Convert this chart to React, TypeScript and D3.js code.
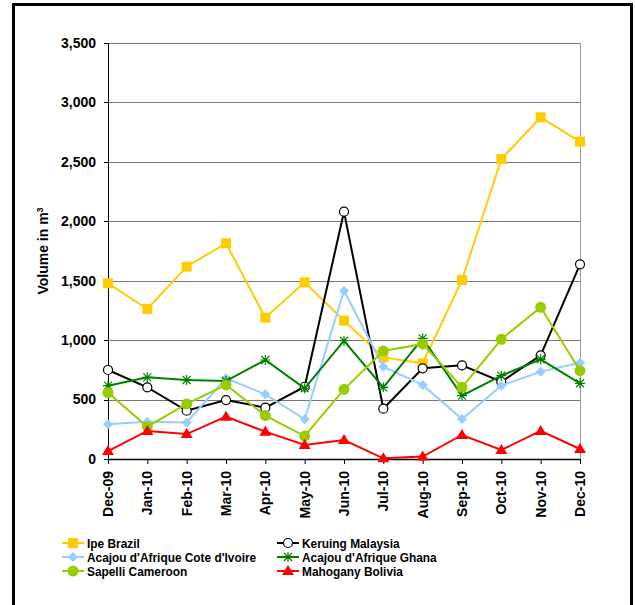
import React from "react";
import * as d3 from "d3";

const months = ["Dec-09", "Jan-10", "Feb-10", "Mar-10", "Apr-10", "May-10", "Jun-10", "Jul-10", "Aug-10", "Sep-10", "Oct-10", "Nov-10", "Dec-10"];

const ipeBrazil = [1478, 1262, 1618, 1815, 1189, 1486, 1164, 855, 805, 1506, 2524, 2875, 2670];
const keruingMalaysia = [749, 603, 406, 496, 432, 608, 2081, 423, 763, 788, 650, 872, 1638];
const acajouCoteIvoire = [292, 314, 308, 679, 544, 334, 1416, 777, 623, 337, 617, 735, 810];
const acajouGhana = [617, 687, 665, 656, 833, 595, 995, 603, 1015, 533, 701, 839, 637];
const sapelliCameroon = [558, 272, 463, 623, 365, 193, 586, 909, 968, 603, 1007, 1276, 743];
const mahoganyBolivia = [67, 236, 210, 356, 230, 118, 160, 6, 20, 202, 76, 236, 84];

const yTicks = [0, 500, 1000, 1500, 2000, 2500, 3000, 3500];

type Marker = "square" | "circle" | "diamond" | "star" | "dot" | "triangle";
const series: { name: string; values: number[]; color: string; marker: Marker }[] = [
  { name: "Ipe Brazil", values: ipeBrazil, color: "#FFCC00", marker: "square" },
  { name: "Keruing Malaysia", values: keruingMalaysia, color: "#000000", marker: "circle" },
  { name: "Acajou d'Afrique Cote d'Ivoire", values: acajouCoteIvoire, color: "#99CCFF", marker: "diamond" },
  { name: "Acajou d'Afrique Ghana", values: acajouGhana, color: "#008000", marker: "star" },
  { name: "Sapelli Cameroon", values: sapelliCameroon, color: "#99CC00", marker: "dot" },
  { name: "Mahogany Bolivia", values: mahoganyBolivia, color: "#FF0000", marker: "triangle" },
];

const FONT = "'Liberation Sans', Arial, sans-serif";

function MarkerShape({ type, color, x, y }: { type: Marker; color: string; x: number; y: number }) {
  switch (type) {
    case "square":
      return <rect x={x - 5} y={y - 5} width={10} height={10} fill={color} />;
    case "circle":
      return <circle cx={x} cy={y} r={4.5} fill="#fff" stroke={color} strokeWidth={1.2} />;
    case "diamond":
      return <path d={`M${x},${y - 5}L${x + 5},${y}L${x},${y + 5}L${x - 5},${y}Z`} fill={color} />;
    case "star":
      return (
        <path
          d={`M${x - 5},${y}H${x + 5}M${x},${y - 5}V${y + 5}M${x - 4},${y - 4}L${x + 4},${y + 4}M${x - 4},${y + 4}L${x + 4},${y - 4}`}
          stroke={color}
          strokeWidth={1.2}
          fill="none"
        />
      );
    case "dot":
      return <circle cx={x} cy={y} r={5.5} fill={color} />;
    case "triangle":
      return <path d={`M${x},${y - 6}L${x + 6},${y + 4}L${x - 6},${y + 4}Z`} fill={color} />;
  }
}

export default function App() {
  const width = 635;
  const height = 605;
  const plot = { left: 108, top: 43, right: 580, bottom: 459 };

  const x = d3.scalePoint<string>().domain(months).range([plot.left, plot.right]);
  const y = d3.scaleLinear().domain([0, 3500]).range([plot.bottom, plot.top]);
  const line = d3
    .line<number>()
    .x((_, i) => x(months[i]) as number)
    .y((d) => y(d));

  const legendRows = [
    [series[0], series[1]],
    [series[2], series[3]],
    [series[4], series[5]],
  ];

  return (
    <svg
      width={width}
      height={height}
      style={{ position: "absolute", left: 0, top: 0, background: "#fff" }}
      fontFamily={FONT}
    >
      <rect x={13.5} y={4.5} width={618} height={620} fill="#fff" stroke="#000" strokeWidth={3} />

      {/* gridlines */}
      {yTicks.map((t) => (
        <line key={t} x1={plot.left} x2={plot.right} y1={Math.round(y(t)) + 0.5} y2={Math.round(y(t)) + 0.5} stroke="#777" strokeWidth={1.2} />
      ))}
      <line x1={plot.right + 0.5} x2={plot.right + 0.5} y1={plot.top} y2={plot.bottom} stroke="#999" strokeWidth={1} />

      {/* axes */}
      <line x1={plot.left + 0.5} x2={plot.left + 0.5} y1={plot.top} y2={plot.bottom} stroke="#000" strokeWidth={1} />
      <line x1={plot.left} x2={plot.right} y1={plot.bottom + 0.5} y2={plot.bottom + 0.5} stroke="#000" strokeWidth={1.5} />
      {yTicks.map((t) => (
        <g key={t}>
          <line x1={plot.left - 4} x2={plot.left} y1={Math.round(y(t)) + 0.5} y2={Math.round(y(t)) + 0.5} stroke="#000" />
          <text x={96} y={y(t)} dy="0.35em" textAnchor="end" fontSize={14} fontWeight="bold">
            {d3.format(",")(t)}
          </text>
        </g>
      ))}
      {months.map((m) => {
        const px = x(m) as number;
        return (
          <g key={m}>
            <line x1={px + 0.5} x2={px + 0.5} y1={plot.bottom} y2={plot.bottom + 5} stroke="#000" />
            <text
              transform={`translate(${px + 5},${471}) rotate(-90)`}
              textAnchor="end"
              fontSize={14}
              fontWeight="bold"
            >
              {m}
            </text>
          </g>
        );
      })}

      <text transform={`translate(48,${(plot.top + plot.bottom) / 2}) rotate(-90)`} textAnchor="middle" fontSize={14} fontWeight="bold">
        Volume in m<tspan fontSize={9} dy={-5}>3</tspan>
      </text>

      {/* series */}
      {series.map((s) => (
        <g key={s.name}>
          <path d={line(s.values) ?? ""} fill="none" stroke={s.color} strokeWidth={2} />
          {s.values.map((v, i) => (
            <MarkerShape key={i} type={s.marker} color={s.color} x={x(months[i]) as number} y={y(v)} />
          ))}
        </g>
      ))}

      {/* legend */}
      {legendRows.map((row, ri) =>
        row.map((s, ci) => {
          const lx = ci === 0 ? 62 : 277;
          const ly = 543 + ri * 14;
          return (
            <g key={s.name}>
              <line x1={lx} x2={lx + 22} y1={ly} y2={ly} stroke={s.color} strokeWidth={2} />
              <MarkerShape type={s.marker} color={s.color} x={lx + 11} y={ly} />
              <text
                transform={`translate(${lx + 25},${ly}) scale(0.88,1)`}
                dy="0.36em"
                fontSize={13.5}
                fontWeight="bold"
              >
                {s.name}
              </text>
            </g>
          );
        })
      )}
    </svg>
  );
}
